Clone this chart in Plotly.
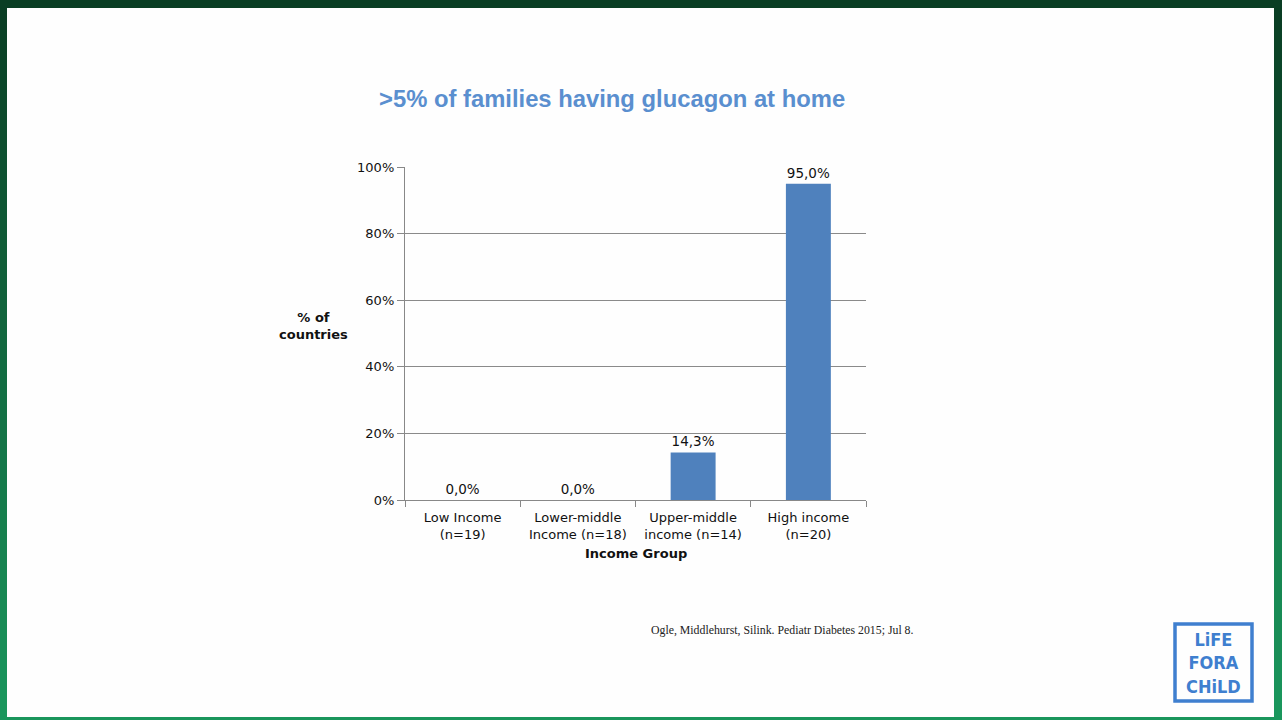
import plotly.graph_objects as go

categories = ["Low Income<br>(n=19)", "Lower-middle<br>Income (n=18)",
              "Upper-middle<br>income (n=14)", "High income<br>(n=20)"]
values = [0.0, 0.0, 14.3, 95.0]
y_ticks = [0, 20, 40, 60, 80, 100]
y_tick_labels = ["0%", "20%", "40%", "60%", "80%", "100%"]

title_text = ">5% of families having glucagon at home"
citation = "Ogle, Middlehurst, Silink. Pediatr Diabetes 2015; Jul 8."
logo_text = "LiFE<br>FORA<br>CHiLD"

W, H = 1282, 720
ML, MR, MT, MB = 405, W - 866, 167, H - 500
PW, PH = W - ML - MR, H - MT - MB


def px(x):
    return (x - ML) / PW


def py(y):
    return (H - MB - y) / PH


fig = go.Figure()
fig.add_trace(go.Bar(
    x=categories, y=values,
    marker=dict(color="#4f81bd", line=dict(width=0)),
    width=0.39,
    texttemplate="%{y:.1f}%", textposition="outside",
    textfont=dict(family="DejaVu Sans", size=13.5, color="#111111"),
    cliponaxis=False,
))

shapes = []
# green gradient frame
top = (10, 62, 36)
bot = (26, 150, 92)
N = 24
for i in range(N):
    t = i / (N - 1)
    c = tuple(int(round(top[k] + (bot[k] - top[k]) * t)) for k in range(3))
    y0 = H * i / N
    y1 = H * (i + 1) / N + 1
    shapes.append(dict(type="rect", xref="paper", yref="paper",
                       x0=px(-5), x1=px(W + 5), y0=py(y1), y1=py(y0),
                       fillcolor="rgb(%d,%d,%d)" % c, line=dict(width=0), layer="below"))
shapes.append(dict(type="rect", xref="paper", yref="paper",
                   x0=px(7), x1=px(1274), y0=py(717), y1=py(8),
                   fillcolor="#fefefe", line=dict(width=0), layer="below"))
# logo box
shapes.append(dict(type="rect", xref="paper", yref="paper",
                   x0=px(1175), x1=px(1252), y0=py(701), y1=py(624),
                   fillcolor="rgba(0,0,0,0)", line=dict(color="#3f7fcf", width=3.5)))

annotations = [
    dict(text="<b>" + title_text + "</b>", xref="paper", yref="paper",
         x=px(612), y=py(99), xanchor="center", yanchor="middle", showarrow=False,
         font=dict(family="Liberation Sans", size=23.8, color="#5a8fcf")),
    dict(text="<b>% of<br>countries</b>", xref="paper", yref="paper",
         x=px(313), y=py(326), xanchor="center", yanchor="middle", showarrow=False,
         font=dict(family="DejaVu Sans", size=13, color="#111111")),
    dict(text="<b>Income Group</b>", xref="paper", yref="paper",
         x=px(636), y=py(553), xanchor="center", yanchor="middle", showarrow=False,
         font=dict(family="DejaVu Sans", size=13, color="#111111")),
    dict(text=citation, xref="paper", yref="paper",
         x=px(649), y=py(630), xanchor="left", yanchor="middle", showarrow=False,
         font=dict(family="Liberation Serif", size=11.8, color="#222222")),
    dict(text="<b>" + logo_text + "</b>", xref="paper", yref="paper",
         x=px(1213), y=py(663), xanchor="center", yanchor="middle", showarrow=False,
         font=dict(family="DejaVu Sans Condensed", size=18, color="#3f7fcf")),
]

fig.update_layout(
    width=W, height=H,
    margin=dict(l=ML, r=MR, t=MT, b=MB, pad=0),
    paper_bgcolor="#1a6a40", plot_bgcolor="rgba(0,0,0,0)",
    separators=",.",
    showlegend=False,
    shapes=shapes, annotations=annotations,
    xaxis=dict(type="category", tickson="boundaries", ticks="outside", ticklen=6,
               tickcolor="#888888", showline=True, linecolor="#888888", linewidth=1.3,
               showgrid=False, ticklabelstandoff=5,
               tickfont=dict(family="DejaVu Sans", size=13, color="#111111")),
    yaxis=dict(range=[0, 100], tickvals=y_ticks, ticktext=y_tick_labels,
               ticks="outside", ticklen=7, tickcolor="#888888",
               showline=True, linecolor="#888888", linewidth=1.3,
               showgrid=True, gridcolor="#8a8a8a", gridwidth=1.4, zeroline=False,
               tickfont=dict(family="DejaVu Sans", size=13, color="#111111")),
    bargap=0.61,
)

fig.write_html("out.html", config={"displayModeBar": False},
               post_script="document.body.style.margin='0';document.body.style.overflow='hidden';")
